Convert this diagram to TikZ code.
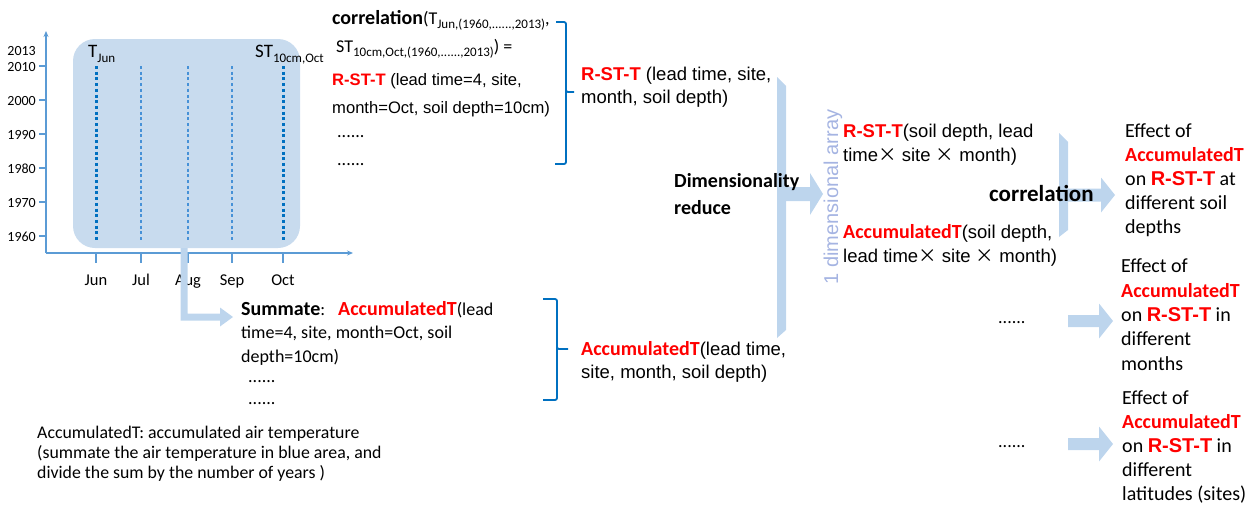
\documentclass[tikz,border=0pt]{standalone}
\usepackage{fontspec}
\setmainfont{Carlito}
\newfontfamily\arial{Liberation Sans}
\newfontfamily\cjk{Noto Sans CJK SC}
\usetikzlibrary{arrows.meta,calc}
\definecolor{rred}{RGB}{255,0,0}
\definecolor{axisblue}{RGB}{91,155,213}
\definecolor{dotblue}{RGB}{0,112,192}
\definecolor{thinblue}{RGB}{70,145,215}
\definecolor{rectblue}{RGB}{200,219,238}
\definecolor{arrblue}{RGB}{189,213,237}
\definecolor{lavender}{RGB}{165,180,226}
\definecolor{brblue}{RGB}{0,112,192}
\newcommand{\rst}{{\arial\bfseries\color{rred}R-ST-T}}
\newcommand{\acc}{{\rmfamily\bfseries\fontsize{20}{24}\selectfont\color{rred}AccumulatedT}}
\newcommand{\lowsub}[2]{\raisebox{-#1}{\fontsize{13}{13}\selectfont #2}}
\newcommand{\tms}{{\cjk ×}}
% horizontal fat arrow: start, tip, half shaft, half head, head length
\newcommand{\fatarr}[5]{%
  \fill[arrblue] ($(#1)+(0,-#3)$) -- ($(#2)+(-#5,-#3)$) -- ($(#2)+(-#5,-#4)$) -- (#2)
    -- ($(#2)+(-#5,#4)$) -- ($(#2)+(-#5,#3)$) -- ($(#1)+(0,#3)$) -- cycle;}
\begin{document}
\begin{tikzpicture}[x=1pt,y=-1pt,
  txt/.style={inner sep=0pt, anchor=base west, align=left, font=\fontsize{18}{24}\selectfont},
  atxt/.style={inner sep=0pt, anchor=base west, align=left, font=\arial\fontsize{18.5}{23}\selectfont},
  ctxt/.style={inner sep=0pt, anchor=base west, align=left, font=\fontsize{20}{24}\selectfont},
  yl/.style={inner sep=0pt, anchor=base east, font=\fontsize{14}{14}\selectfont},
  ml/.style={inner sep=0pt, anchor=base, font=\fontsize{16.5}{16.5}\selectfont},
  axisline/.style={draw=axisblue, line width=1.5pt},
  thickdot/.style={draw=dotblue, line width=3pt, dash pattern=on 3pt off 2.7pt},
  thindash/.style={draw=thinblue, line width=1.2pt, dash pattern=on 3pt off 2.7pt},
  brkt/.style={draw=brblue, line width=1.8pt, rounded corners=2pt},
]
\useasboundingbox (0,0) rectangle (1253,504);

% ---------- chart ----------
\node[fill=rectblue, rounded corners=22pt, minimum width=227pt, minimum height=209pt, inner sep=0pt] (area) at (186.5,143.5) {};
\coordinate (O) at (46,253);
\coordinate (ytop) at (46,31);
\coordinate (xend) at (353,253);
\draw[axisline, -{Stealth[length=6pt,width=5pt]}] (O) -- (ytop);
\draw[axisline, -{Stealth[length=6pt,width=5pt]}] (O) -- (xend);
\node[yl] (y2013) at (36,55) {2013};
\foreach \y/\lab in {66/2010,100/2000,134/1990,168/1980,202/1970,236/1960}{
  \draw[axisline] (39,\y) -- (46,\y);
  \node[yl] (y\lab) at (36,\y+5) {\lab};
}
\foreach \x/\m/\s in {96/Jun/thickdot,141/Jul/thindash,188/Aug/thindash,232/Sep/thindash,283/Oct/thickdot}{
  \draw[axisline] (\x,253) -- (\x,263);
  \draw[\s] (\x,66) -- (\x,242);
  \node[ml] (m\m) at (\x,285) {\m};
}
\node[inner sep=0pt, anchor=base west, font=\fontsize{19}{19}\selectfont] (tjun) at (88,57) {T\lowsub{5pt}{Jun}};
\node[inner sep=0pt, anchor=base west, font=\fontsize{19}{19}\selectfont] (stoct) at (255,57) {ST\lowsub{5pt}{10cm,Oct}};

% ---------- bent arrow from Aug ----------
\coordinate (augb) at (184,248);
\coordinate (sumtip) at (233,317);
\fill[arrblue] ($(augb)+(-3.5,0)$) -- ($(augb|-sumtip)+(-3.5,3.5)$) -- ($(sumtip)+(-13,3.5)$) -- ($(sumtip)+(-13,9.5)$) -- (sumtip)
  -- ($(sumtip)+(-13,-9.5)$) -- ($(sumtip)+(-13,-3.5)$) -- ($(augb|-sumtip)+(3.5,-3.5)$) -- ($(augb)+(3.5,0)$) -- cycle;

% ---------- top texts ----------
\node[txt, font=\fontsize{18}{28}\selectfont] (corr) at (332,52)
  {{\fontsize{20}{28}\selectfont\bfseries correlation}(T\lowsub{4pt}{Jun,(1960,......,2013)},\\\hspace{4pt}ST\lowsub{4pt}{10cm,Oct,(1960,......,2013)}) =};
\node[atxt, font=\arial\fontsize{16.6}{28}\selectfont] (rst1) at (332,113)
  {\rst{} (lead time=4, site,\\month=Oct, soil depth=10cm)};
\node[txt, font=\fontsize{18}{28}\selectfont] (dots1) at (337,165) {......\\......};
\draw[brkt] (556,22) -| (566,92) -- (574,92);
\draw[brkt] (566,90) |- (555,164);

\node[atxt] (rst2) at (581,103) {\rst{} (lead time, site,\\month, soil depth)};

% ---------- summate ----------
\node[txt, font=\fontsize{18}{23.5}\selectfont] (summ) at (241,362)
  {{\fontsize{20}{23.5}\selectfont\bfseries Summate}:\hspace{13pt}\acc(lead\\time=4, site, month=Oct, soil\\depth=10cm)};
\node[txt, font=\fontsize{18}{22}\selectfont] (dots2) at (248,404) {......\\......};
\draw[brkt] (543,299) -| (557,349) -- (568,349);
\draw[brkt] (557,347) |- (543,400);
\node[atxt] (acc2) at (581,378) {\acc(lead time,\\site, month, soil depth)};

% ---------- dimensionality reduce ----------
\fill[arrblue] (777,77) -- (786,86) -- (786,330) -- (777,338) -- cycle;
\coordinate (b1out) at (786,194);
\coordinate (b1tip) at (823,194);
\fatarr{b1out}{b1tip}{7}{21}{13}
\node[txt, font=\fontsize{20}{27}\selectfont\bfseries] (dimred) at (674,214) {Dimensionality\\reduce};
\node[inner sep=0pt, rotate=90, font=\arial\fontsize{20}{20}\selectfont, text=lavender] (onedim) at (833,197) {1 dimensional array};

\node[atxt, font=\arial\fontsize{18.5}{24}\selectfont] (rst3) at (843,161) {\rst(soil depth, lead\\time\tms\ site \tms\ month)};
\node[atxt, font=\arial\fontsize{18.5}{24}\selectfont] (acc3) at (843,262) {\acc(soil depth,\\lead time\tms\ site \tms\ month)};

% ---------- correlation ----------
\fill[arrblue] (1059,133) -- (1068,142) -- (1068,230) -- (1059,237) -- cycle;
\coordinate (b2out) at (1068,195);
\coordinate (b2tip) at (1115,195);
\fatarr{b2out}{b2tip}{6.5}{17.5}{14}
\node[inner sep=0pt, anchor=base west, font=\fontsize{23}{23}\selectfont\bfseries] (corrlab) at (989,201) {correlation};

\node[ctxt] (eff1) at (1125,233) {Effect of\\\acc\\on \rst{} at\\different soil\\depths};
\node[ctxt, font=\fontsize{20}{24.3}\selectfont] (eff2) at (1121,370) {Effect of\\\acc\\on \rst{} in\\different\\months};
\node[ctxt] (eff3) at (1122,500) {Effect of\\\acc\\on \rst{} in\\different\\latitudes (sites)};

\node[txt] (dots3) at (998,323) {......};
\node[txt] (dots4) at (998,447) {......};
\coordinate (a3s) at (1068,321);
\coordinate (a3t) at (1113,321);
\coordinate (a4s) at (1068,444);
\coordinate (a4t) at (1113,444);
\fatarr{a3s}{a3t}{6}{17.5}{14}
\fatarr{a4s}{a4t}{6}{17.5}{14}

% ---------- note ----------
\node[txt, font=\fontsize{17.8}{20}\selectfont] (note) at (37,478)
  {AccumulatedT: accumulated air temperature\\(summate the air temperature in blue area, and\\divide the sum by the number of years )};
\end{tikzpicture}
\end{document}
